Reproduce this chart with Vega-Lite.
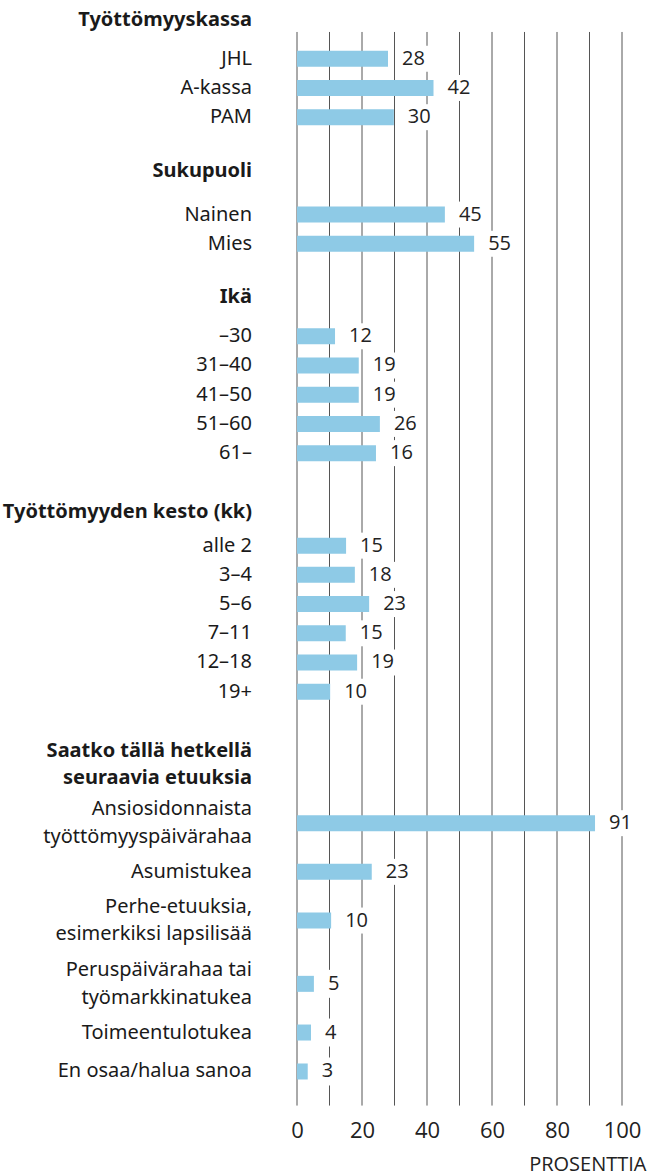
{
  "$schema": "https://vega.github.io/schema/vega-lite/v6.json",
  "autosize": {"type": "none"},
  "width": 325,
  "height": 1095.5,
  "padding": {"left": 297, "right": 27, "top": 12.5, "bottom": 67},
  "background": "white",
  "config": {
    "view": {"stroke": null},
    "axisX": {
      "grid": false,
      "ticks": false,
      "domain": false,
      "labelFlush": false,
      "labelOverlap": false,
      "labelFont": "Open Sans",
      "labelFontSize": 22,
      "labelColor": "#222222",
      "labelPadding": 12,
      "titleFont": "Open Sans",
      "titleFontSize": 20,
      "titleFontWeight": "normal",
      "titleColor": "#222222",
      "titleAlign": "right",
      "titleX": 349,
      "titlePadding": 13
    }
  },
  "datasets": {
    "rows": [
      {"label": "Työttömyyskassa", "kind": "header"},
      {"label": "JHL", "kind": "item", "bar": 28, "pct": 28},
      {"label": "A-kassa", "kind": "item", "bar": 42, "pct": 42},
      {"label": "PAM", "kind": "item", "bar": 29.8, "pct": 30},
      {"label": "Sukupuoli", "kind": "header"},
      {"label": "Nainen", "kind": "item", "bar": 45.5, "pct": 45},
      {"label": "Mies", "kind": "item", "bar": 54.5, "pct": 55},
      {"label": "Ikä", "kind": "header"},
      {"label": "–30", "kind": "item", "bar": 11.7, "pct": 12},
      {"label": "31–40", "kind": "item", "bar": 19, "pct": 19},
      {"label": "41–50", "kind": "item", "bar": 19, "pct": 19},
      {"label": "51–60", "kind": "item", "bar": 25.5, "pct": 26},
      {"label": "61–", "kind": "item", "bar": 24.3, "pct": 16},
      {"label": "Työttömyyden kesto (kk)", "kind": "header"},
      {"label": "alle 2", "kind": "item", "bar": 15.1, "pct": 15},
      {"label": "3–4", "kind": "item", "bar": 17.8, "pct": 18},
      {"label": "5–6", "kind": "item", "bar": 22.2, "pct": 23},
      {"label": "7–11", "kind": "item", "bar": 15, "pct": 15},
      {"label": "12–18", "kind": "item", "bar": 18.5, "pct": 19},
      {"label": "19+", "kind": "item", "bar": 10.2, "pct": 10},
      {"label": "Saatko  tällä hetkellä\nseuraavia etuuksia", "kind": "header"},
      {"label": "Ansiosidonnaista\ntyöttömyyspäivärahaa", "kind": "item", "bar": 91.7, "pct": 91},
      {"label": "Asumistukea", "kind": "item", "bar": 23, "pct": 23},
      {"label": "Perhe-etuuksia,\nesimerkiksi lapsilisää", "kind": "item", "bar": 10.5, "pct": 10},
      {"label": "Peruspäivärahaa tai\ntyömarkkinatukea", "kind": "item", "bar": 5.2, "pct": 5},
      {"label": "Toimeentulotukea", "kind": "item", "bar": 4.3, "pct": 4},
      {"label": "En osaa/halua sanoa", "kind": "item", "bar": 3.3, "pct": 3}
    ],
    "grid": [
      {"v": 0}, {"v": 10}, {"v": 20}, {"v": 30}, {"v": 40}, {"v": 50},
      {"v": 60}, {"v": 70}, {"v": 80}, {"v": 90}, {"v": 100}
    ]
  },
  "data": {"name": "rows"},
  "encoding": {
    "y": {
      "field": "label",
      "type": "nominal",
      "axis": null,
      "scale": {
        "type": "band",
        "paddingInner": 0,
        "paddingOuter": 0,
        "domain": ["_0","Työttömyyskassa","_2","_3","g_top","_5","_6","_7","_8","JHL","_10","_11","_12","_13","_14","A-kassa","_16","_17","_18","_19","_20","PAM","_22","_23","_24","_25","_26","_27","_28","_29","_30","_31","Sukupuoli","_33","_34","_35","_36","_37","_38","_39","_40","Nainen","_42","_43","_44","_45","_46","Mies","_48","_49","_50","_51","_52","_53","_54","_55","_56","_57","Ikä","_59","_60","_61","_62","_63","_64","_65","–30","_67","_68","_69","_70","_71","31–40","_73","_74","_75","_76","_77","41–50","_79","_80","_81","_82","_83","51–60","_85","_86","_87","_88","_89","61–","_91","_92","_93","_94","_95","_96","_97","_98","_99","_100","_101","Työttömyyden kesto (kk)","_103","_104","_105","_106","_107","_108","alle 2","_110","_111","_112","_113","_114","3–4","_116","_117","_118","_119","_120","5–6","_122","_123","_124","_125","_126","7–11","_128","_129","_130","_131","_132","12–18","_134","_135","_136","_137","_138","19+","_140","_141","_142","_143","_144","_145","_146","_147","_148","_149","_150","_151","_152","_153","Saatko  tällä hetkellä\nseuraavia etuuksia","_155","_156","_157","_158","_159","_160","_161","_162","_163","_164","_165","Ansiosidonnaista\ntyöttömyyspäivärahaa","_167","_168","_169","_170","_171","_172","_173","_174","_175","Asumistukea","_177","_178","_179","_180","_181","_182","_183","_184","_185","Perhe-etuuksia,\nesimerkiksi lapsilisää","_187","_188","_189","_190","_191","_192","_193","_194","_195","_196","_197","_198","Peruspäivärahaa tai\ntyömarkkinatukea","_200","_201","_202","_203","_204","_205","_206","_207","_208","Toimeentulotukea","_210","_211","_212","_213","_214","_215","_216","En osaa/halua sanoa","_218","_219","_220","_221","_222","_223","g_bot"]
      }
    }
  },
  "layer": [
    {
      "data": {"name": "grid"},
      "mark": {"type": "rule", "color": "#555555", "strokeWidth": 1},
      "encoding": {
        "x": {"field": "v", "type": "quantitative", "scale": {"domain": [0, 100], "nice": false}, "title": "PROSENTTIA", "axis": {"values": [0, 20, 40, 60, 80, 100]}},
        "y": {"datum": "g_top", "bandPosition": 0},
        "y2": {"datum": "g_bot"}
      }
    },
    {
      "transform": [{"filter": "datum.kind === 'item'"}],
      "mark": {"type": "bar", "height": 16, "color": "#8ecae6"},
      "encoding": {
        "x": {"field": "bar", "type": "quantitative", "scale": {"domain": [0, 100], "nice": false}, "title": "PROSENTTIA", "axis": {"values": [0, 20, 40, 60, 80, 100]}}
      }
    },
    {
      "transform": [{"filter": "datum.kind === 'item' && datum.pct >= 10"}],
      "mark": {"type": "point", "shape": "M-15,-13H15V13H-15Z", "size": 4, "filled": true, "color": "white", "opacity": 1, "strokeWidth": 0, "xOffset": 25.5},
      "encoding": {
        "x": {"field": "bar", "type": "quantitative", "scale": {"domain": [0, 100], "nice": false}, "title": "PROSENTTIA", "axis": {"values": [0, 20, 40, 60, 80, 100]}}
      }
    },
    {
      "transform": [{"filter": "datum.kind === 'item' && datum.pct < 10"}],
      "mark": {"type": "point", "shape": "M-9,-14H9V14H-9Z", "size": 4, "filled": true, "color": "white", "opacity": 1, "strokeWidth": 0, "xOffset": 19.7},
      "encoding": {
        "x": {"field": "bar", "type": "quantitative", "scale": {"domain": [0, 100], "nice": false}, "title": "PROSENTTIA", "axis": {"values": [0, 20, 40, 60, 80, 100]}}
      }
    },
    {
      "transform": [{"filter": "datum.kind === 'item'"}],
      "mark": {"type": "text", "align": "left", "baseline": "middle", "dx": 14, "font": "Open Sans", "fontSize": 20, "color": "#222222"},
      "encoding": {
        "x": {"field": "bar", "type": "quantitative", "scale": {"domain": [0, 100], "nice": false}, "title": "PROSENTTIA", "axis": {"values": [0, 20, 40, 60, 80, 100]}},
        "text": {"field": "pct", "type": "quantitative"}
      }
    },
    {
      "transform": [{"filter": "datum.kind === 'item' && indexof(datum.label, '\\n') < 0"}],
      "mark": {"type": "text", "align": "right", "baseline": "middle", "dx": -45, "font": "Noto Sans", "fontSize": 20, "color": "#1a1a1a"},
      "encoding": {
        "x": {"datum": 0, "type": "quantitative", "scale": {"domain": [0, 100], "nice": false}, "title": "PROSENTTIA", "axis": {"values": [0, 20, 40, 60, 80, 100]}},
        "text": {"field": "label", "type": "nominal"}
      }
    },
    {
      "transform": [{"filter": "datum.kind === 'item' && indexof(datum.label, '\\n') >= 0"}],
      "mark": {"type": "text", "align": "right", "baseline": "middle", "dx": -45, "yOffset": -13.75, "font": "Noto Sans", "fontSize": 20, "lineBreak": "\n", "lineHeight": 27.5, "color": "#1a1a1a"},
      "encoding": {
        "x": {"datum": 0, "type": "quantitative", "scale": {"domain": [0, 100], "nice": false}, "title": "PROSENTTIA", "axis": {"values": [0, 20, 40, 60, 80, 100]}},
        "text": {"field": "label", "type": "nominal"}
      }
    },
    {
      "transform": [{"filter": "datum.kind === 'header' && indexof(datum.label, '\\n') < 0"}],
      "mark": {"type": "text", "align": "right", "baseline": "middle", "dx": -45, "font": "Noto Sans", "fontSize": 20, "fontWeight": "bold", "color": "#1a1a1a"},
      "encoding": {
        "x": {"datum": 0, "type": "quantitative", "scale": {"domain": [0, 100], "nice": false}, "title": "PROSENTTIA", "axis": {"values": [0, 20, 40, 60, 80, 100]}},
        "text": {"field": "label", "type": "nominal"}
      }
    },
    {
      "transform": [{"filter": "datum.kind === 'header' && indexof(datum.label, '\\n') >= 0"}],
      "mark": {"type": "text", "align": "right", "baseline": "middle", "dx": -45, "yOffset": -13.75, "font": "Noto Sans", "fontSize": 20, "fontWeight": "bold", "lineBreak": "\n", "lineHeight": 27.5, "color": "#1a1a1a"},
      "encoding": {
        "x": {"datum": 0, "type": "quantitative", "scale": {"domain": [0, 100], "nice": false}, "title": "PROSENTTIA", "axis": {"values": [0, 20, 40, 60, 80, 100]}},
        "text": {"field": "label", "type": "nominal"}
      }
    }
  ]
}
